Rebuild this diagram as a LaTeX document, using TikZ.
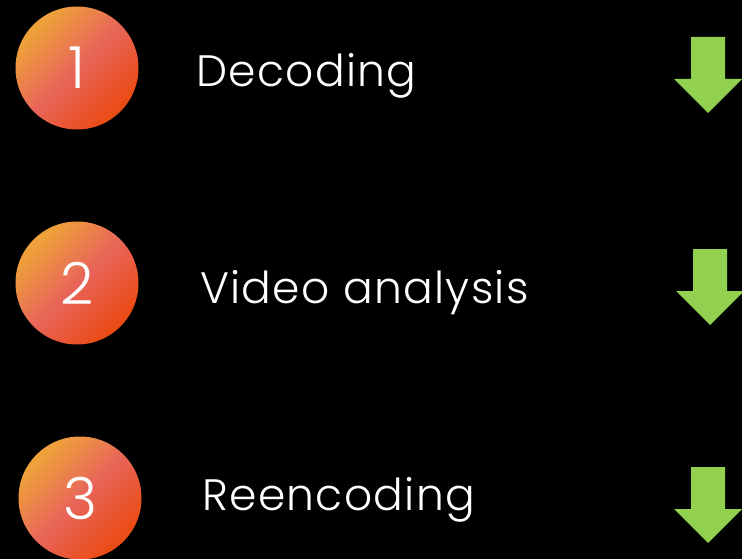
\documentclass[tikz,border=0pt]{standalone}
\usepackage{fontspec}
\setmainfont{Poppins}[UprightFont=* Light]
\usetikzlibrary{positioning}

\definecolor{stepA}{HTML}{EEA03A}
\definecolor{stepB}{HTML}{E8655A}
\definecolor{stepC}{HTML}{EA4C16}
\definecolor{arrowgreen}{HTML}{92D050}

\pgfdeclareverticalshading{stepshade}{100bp}{color(0bp)=(stepC); color(27bp)=(stepC);
    color(50bp)=(stepB); color(73bp)=(stepA); color(100bp)=(stepA)}

\tikzset{
    stepnum/.style={circle, minimum size=123pt, inner sep=0pt, text=white,
        font=\fontsize{58}{58}\selectfont,
        shading=stepshade, shading angle=45},
    steplabel/.style={anchor=base west, inner sep=0pt, text=white,
        font=\addfontfeature{LetterSpace=3}\fontsize{44}{44}\selectfont},
}

\begin{document}
\begin{tikzpicture}[x=1pt, y=1pt]
    \fill[black] (0,0) rectangle (742,-559);
    \useasboundingbox (0,0) rectangle (742,-559);

    % numbered steps
    \node[stepnum] (n1) at (77,-68) {1};
    \node[stepnum] (n2) at (77,-283) {2};
    \node[stepnum] (n3) at (80,-498) {3};

    % labels
    \node[steplabel] (l1) at (196,-87) {Decoding};
    \node[steplabel] (l2) at (200,-303) {Video analysis};
    \node[steplabel] (l3) at (202,-510) {Reencoding};

    % down arrows
    \foreach \x/\y in {708/37, 710/249, 708/467} {
        \fill[arrowgreen] (\x-17,-\y) -- (\x+17,-\y) -- (\x+17,-\y-42)
            -- (\x+34,-\y-42) -- (\x,-\y-76) -- (\x-34,-\y-42)
            -- (\x-17,-\y-42) -- cycle;
    }
\end{tikzpicture}
\end{document}
